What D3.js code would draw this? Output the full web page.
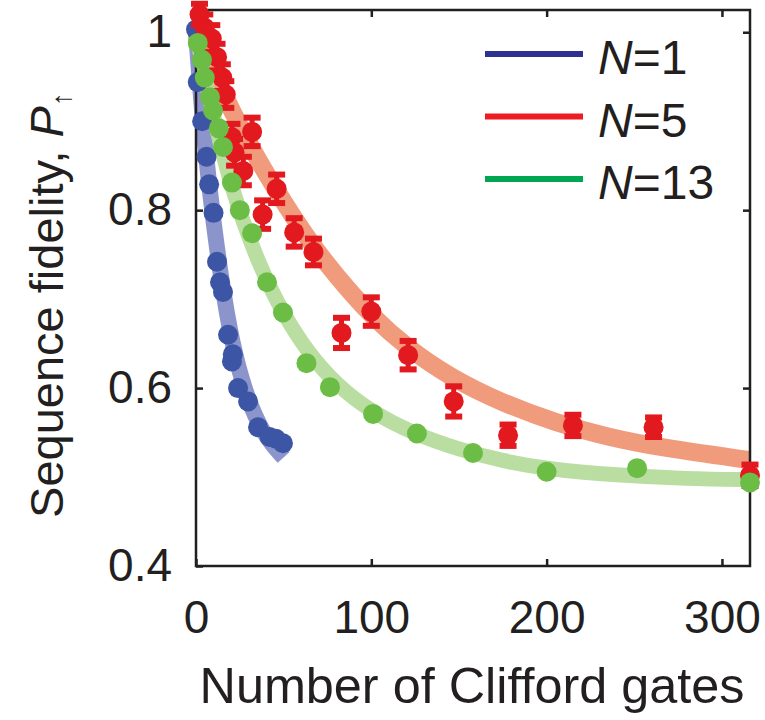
<!DOCTYPE html>
<html>
<head>
<meta charset="utf-8">
<script src="https://cdn.jsdelivr.net/npm/d3@7"></script>
<style>
  body { margin: 0; background: #fff; }
  text { font-family: "Liberation Sans", Arial, sans-serif; fill: #231f20; }
</style>
</head>
<body>
<svg id="chart" width="765" height="720"></svg>
<script>
// N=1 measured points
const blueX = [0, 1, 3.5, 6, 7.5, 10, 12, 13.7, 15.4, 18.3, 21, 20.5, 24, 29.7, 35.4, 42, 45.6, 49.6];
const blueY = [1.003, 0.944, 0.9, 0.86, 0.829, 0.797, 0.742, 0.719, 0.708, 0.66, 0.638, 0.63, 0.6, 0.585, 0.556, 0.545, 0.543, 0.538];
// N=5 measured points with error
const redX = [2, 5, 9, 12, 15, 17, 20.5, 22, 27, 32, 38, 46, 56, 67, 83, 100, 121, 147, 178, 215, 261, 316];
const redY = [1.02, 1.005, 0.993, 0.972, 0.949, 0.93, 0.882, 0.865, 0.844, 0.888, 0.795, 0.824, 0.775, 0.753, 0.662, 0.686, 0.637, 0.585, 0.547, 0.558, 0.556, 0.502];
const redErr = [0.012, 0.015, 0.015, 0.015, 0.015, 0.015, 0.015, 0.015, 0.016, 0.016, 0.016, 0.016, 0.016, 0.015, 0.017, 0.016, 0.016, 0.017, 0.012, 0.012, 0.011, 0.012];
// N=13 measured points
const greenX = [1, 3.4, 5, 8, 9.7, 13, 15.4, 20.5, 25, 32, 40.5, 49.6, 63, 76.4, 101, 126, 158, 200, 251.6, 316];
const greenY = [0.988, 0.969, 0.949, 0.927, 0.912, 0.892, 0.871, 0.831, 0.8, 0.774, 0.719, 0.685, 0.628, 0.601, 0.571, 0.549, 0.527, 0.506, 0.51, 0.494];

// fitted curves
const blueFitX = [0, 5, 10, 16, 22, 30, 38, 44, 50];
const blueFitY = [1.0, 0.87, 0.785, 0.7, 0.637, 0.584, 0.551, 0.535, 0.522];
const redFitX = [0, 10, 20, 35, 50, 65, 80, 100, 120, 145, 175, 205, 235, 265, 316];
const redFitY = [1.0, 0.955, 0.913, 0.857, 0.809, 0.764, 0.726, 0.681, 0.646, 0.612, 0.583, 0.561, 0.545, 0.533, 0.519];
const greenFitX = [0, 5, 10, 20, 35, 50, 65, 80, 100, 125, 150, 175, 200, 240, 280, 316];
const greenFitY = [1.0, 0.95, 0.905, 0.825, 0.742, 0.682, 0.637, 0.604, 0.573, 0.548, 0.531, 0.518, 0.509, 0.502, 0.498, 0.497];

const xTicks = [0, 100, 200, 300];
const yTicks = [0.4, 0.6, 0.8, 1];
const legendLabels = ["1", "5", "13"];

const svg = d3.select("#chart");
const x = d3.scaleLinear().domain([0, 316]).range([196, 750]);
const y = d3.scaleLinear().domain([0.4, 1.025]).range([566, 10]);

const zip = (a, b) => a.map((v, i) => [v, b[i]]);
const line = d3.line().x(d => x(d[0])).y(d => y(d[1])).curve(d3.curveBasis);

// fits
const fits = [
  { pts: zip(blueFitX, blueFitY), color: "#7f88c6", w: 16 },
  { pts: zip(redFitX, redFitY), color: "#ef906f", w: 18 },
  { pts: zip(greenFitX, greenFitY), color: "#b3da98", w: 15 },
];
fits.forEach(f => {
  svg.append("path")
    .attr("d", line(f.pts))
    .attr("fill", "none")
    .attr("stroke", f.color)
    .attr("stroke-width", f.w)
    .attr("opacity", 0.9);
});

// frame and ticks
const frame = svg.append("g");
frame.append("g")
  .attr("transform", "translate(0,566)")
  .call(d3.axisBottom(x).tickValues(xTicks).tickSize(-7).tickPadding(34))
  .call(g => g.select(".domain").remove())
  .call(g => g.selectAll("text").attr("font-size", 46).attr("font-family", null));
frame.append("g")
  .attr("transform", "translate(0,10)")
  .call(d3.axisTop(x).tickValues(xTicks.slice(1)).tickSize(-7).tickFormat(""))
  .call(g => g.select(".domain").remove());
frame.append("g")
  .attr("transform", "translate(196,0)")
  .call(d3.axisLeft(y).tickValues(yTicks).tickSize(-7).tickPadding(24)
    .tickFormat(d => d === 1 ? "1" : d3.format(".1f")(d)))
  .call(g => g.select(".domain").remove())
  .call(g => g.selectAll("text").attr("font-size", 46).attr("font-family", null));
frame.append("g")
  .attr("transform", "translate(750,0)")
  .call(d3.axisRight(y).tickValues(yTicks.slice(1)).tickSize(-7).tickFormat(""))
  .call(g => g.select(".domain").remove());
frame.selectAll("line").attr("stroke", "#231f20").attr("stroke-width", 2.5);
frame.append("rect")
  .attr("x", 196).attr("y", 10).attr("width", 554).attr("height", 556)
  .attr("fill", "none").attr("stroke", "#231f20").attr("stroke-width", 2.5);

// blue points
svg.append("g").selectAll("circle")
  .data(zip(blueX, blueY))
  .join("circle")
  .attr("cx", d => x(d[0])).attr("cy", d => y(d[1])).attr("r", 10)
  .attr("fill", "#3c55a5");

// red points with error bars
const red = svg.append("g").selectAll("g")
  .data(redX.map((v, i) => ({ x: v, y: redY[i], e: redErr[i] })))
  .join("g")
  .attr("fill", "#e2191f");
red.append("rect")
  .attr("x", d => x(d.x) - 2.5).attr("y", d => y(d.y + d.e))
  .attr("width", 5).attr("height", d => y(d.y - d.e) - y(d.y + d.e));
red.append("rect")
  .attr("x", d => x(d.x) - 8.5).attr("y", d => y(d.y + d.e) - 3)
  .attr("width", 17).attr("height", 6);
red.append("rect")
  .attr("x", d => x(d.x) - 8.5).attr("y", d => y(d.y - d.e) - 3)
  .attr("width", 17).attr("height", 6);
red.append("circle")
  .attr("cx", d => x(d.x)).attr("cy", d => y(d.y)).attr("r", 10);

// green points
svg.append("g").selectAll("circle")
  .data(zip(greenX, greenY))
  .join("circle")
  .attr("cx", d => x(d[0])).attr("cy", d => y(d[1])).attr("r", 10)
  .attr("fill", "#6cbd45");

// legend
const legendColors = ["#2e3192", "#ed1c24", "#00a651"];
const legend = svg.append("g");
legendLabels.forEach((lab, i) => {
  const ly = 54 + i * 62.5;
  legend.append("line")
    .attr("x1", 485).attr("x2", 583).attr("y1", ly).attr("y2", ly)
    .attr("stroke", legendColors[i]).attr("stroke-width", 6);
  const t = legend.append("text")
    .attr("x", 598).attr("y", ly + 20).attr("font-size", 48);
  t.append("tspan").attr("font-style", "italic").text("N");
  t.append("tspan").text("=" + lab);
});

// axis titles
svg.append("text")
  .attr("x", 472).attr("y", 703)
  .attr("text-anchor", "middle").attr("font-size", 50)
  .attr("textLength", 545).attr("lengthAdjust", "spacingAndGlyphs")
  .text("Number of Clifford gates");

const yl = svg.append("text")
  .attr("transform", "translate(63,305) rotate(-90)")
  .attr("text-anchor", "middle").attr("font-size", 47);
yl.append("tspan").text("Sequence fidelity, ");
yl.append("tspan").attr("font-style", "italic").text("P");
yl.append("tspan").attr("font-size", 28).attr("dy", 8).text("↑");
</script>
</body>
</html>
